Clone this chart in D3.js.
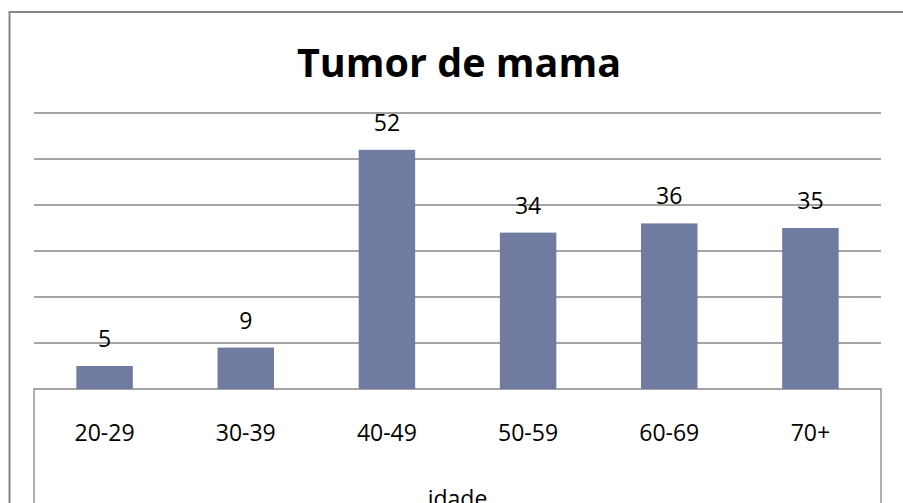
<!DOCTYPE html>
<html>
<head>
<meta charset="utf-8">
<script src="https://cdn.jsdelivr.net/npm/d3@7"></script>
<style>
  body { margin: 0; background: #fff; }
  svg { display: block; font-family: "Open Sans", sans-serif; }
</style>
</head>
<body>
<script>
// data
var categories = ['20-29', '30-39', '40-49', '50-59', '60-69', '70+'];
var values = [5, 9, 52, 34, 36, 35];
var gridTicks = [10, 20, 30, 40, 50, 60];
var title = 'Tumor de mama';
var axisTitle = 'idade';

var width = 903,
  height = 503,
  plotLeft = 34,
  plotRight = 881,
  plotTop = 113,
  plotBottom = 389,
  gridColor = '#868686',
  barColor = '#6f7ba1';

var svg = d3.select('body').append('svg')
  .attr('width', width)
  .attr('height', height);

// outer chart frame (runs off the page on right and bottom)
svg.append('rect')
  .attr('x', 9.5)
  .attr('y', 12)
  .attr('width', 1000)
  .attr('height', 600)
  .attr('fill', 'none')
  .attr('stroke', gridColor)
  .attr('stroke-width', 2);

var x = d3.scaleBand()
  .domain(categories)
  .range([plotLeft, plotRight])
  .paddingInner(0.6)
  .paddingOuter(0.3);

var y = d3.scaleLinear()
  .domain([0, 60])
  .range([plotBottom, plotTop]);

// gridlines
svg.append('g').selectAll('line')
    .data(gridTicks)
  .enter().append('line')
    .attr('x1', plotLeft)
    .attr('x2', plotRight)
    .attr('y1', function (d) { return y(d); })
    .attr('y2', function (d) { return y(d); })
    .attr('stroke', gridColor)
    .attr('stroke-width', 1.3);

// category box under the plot
svg.append('path')
  .attr('d', 'M' + plotLeft + ',' + (height + 5) + 'V' + y(0) + 'H' + plotRight + 'V' + (height + 5))
  .attr('fill', 'none')
  .attr('stroke', gridColor)
  .attr('stroke-width', 1.3);

// bars
svg.append('g').selectAll('rect')
    .data(values)
  .enter().append('rect')
    .attr('x', function (d, i) { return x(categories[i]); })
    .attr('y', function (d) { return y(d); })
    .attr('width', x.bandwidth())
    .attr('height', function (d) { return y(0) - y(d); })
    .attr('fill', barColor);

// value labels
svg.append('g').selectAll('text')
    .data(values)
  .enter().append('text')
    .attr('x', function (d, i) { return x(categories[i]) + x.bandwidth() / 2; })
    .attr('y', function (d) { return y(d) - 19; })
    .attr('text-anchor', 'middle')
    .attr('font-size', 23)
    .attr('fill', '#000')
    .text(function (d) { return d; });

// category labels
svg.append('g').selectAll('text')
    .data(categories)
  .enter().append('text')
    .attr('x', function (d) { return x(d) + x.bandwidth() / 2; })
    .attr('y', 441)
    .attr('text-anchor', 'middle')
    .attr('font-size', 23)
    .attr('fill', '#000')
    .text(function (d) { return d; });

// axis title (partly below the page edge, as in the source)
svg.append('text')
  .attr('x', (plotLeft + plotRight) / 2)
  .attr('y', 507)
  .attr('text-anchor', 'middle')
  .attr('font-size', 23)
  .text(axisTitle);

// chart title
svg.append('text')
  .attr('x', 459)
  .attr('y', 77)
  .attr('text-anchor', 'middle')
  .attr('font-size', 39.5)
  .attr('font-weight', 'bold')
  .text(title);
</script>
</body>
</html>
